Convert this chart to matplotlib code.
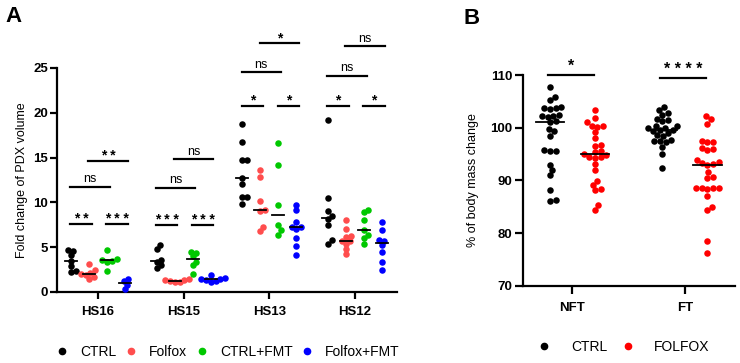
import numpy as np
import matplotlib
matplotlib.use('Agg')
import matplotlib.pyplot as plt
from matplotlib.lines import Line2D

plt.rcParams['font.family'] = ['Liberation Sans', 'DejaVu Sans']

# ---- panel A data: fold change of PDX volume ----
groups = ['HS16', 'HS15', 'HS13', 'HS12']
series_a = ['CTRL', 'Folfox', 'CTRL+FMT', 'Folfox+FMT']
colors_a = ['#000000', '#FF4D4D', '#00C800', '#0000FF']

ctrl = [
    [4.7, 4.6, 4.1, 3.5, 2.9, 2.3, 2.2],
    [5.2, 4.8, 3.6, 3.4, 3.0, 2.7],
    [18.7, 16.7, 14.7, 14.7, 12.7, 12.0, 10.6, 10.6, 9.8],
    [19.2, 10.5, 9.0, 8.5, 8.1, 7.5, 5.8, 5.4],
]
folfox = [
    [3.1, 2.4, 2.1, 2.0, 1.9, 1.7, 1.5],
    [1.4, 1.3, 1.3, 1.2, 1.1, 1.1],
    [13.6, 12.8, 10.2, 9.2, 9.0, 7.3, 6.8],
    [8.0, 7.0, 6.3, 6.1, 5.7, 5.7, 5.4, 4.8, 4.2],
]
ctrl_fmt = [
    [4.7, 3.7, 3.6, 3.5, 3.4, 2.3],
    [4.5, 4.4, 4.0, 3.4, 3.0, 2.0],
    [16.6, 14.2, 9.7, 7.5, 6.9, 6.4],
    [9.2, 8.9, 8.0, 6.9, 6.4, 6.0, 5.4],
]
folfox_fmt = [
    [1.5, 1.2, 0.8, 0.3],
    [1.9, 1.6, 1.5, 1.4, 1.3, 1.2, 1.1],
    [9.7, 9.1, 7.8, 7.3, 7.2, 7.0, 6.0, 5.1, 4.1],
    [7.8, 6.9, 5.8, 5.7, 5.2, 4.5, 3.4, 2.5],
]
data_a = [ctrl, folfox, ctrl_fmt, folfox_fmt]

# (group, series a, series b, bar height, label)
sig_a = [
    (0, 0, 1, 7.6, '**'), (0, 2, 3, 7.6, '***'), (0, 0, 2, 11.7, 'ns'), (0, 1, 3, 14.65, '**'),
    (1, 0, 1, 7.5, '***'), (1, 2, 3, 7.5, '***'), (1, 0, 2, 11.6, 'ns'), (1, 1, 3, 14.8, 'ns'),
    (2, 0, 1, 20.8, '*'), (2, 2, 3, 20.8, '*'), (2, 0, 2, 24.5, 'ns'), (2, 1, 3, 27.75, '*'),
    (3, 0, 1, 20.8, '*'), (3, 2, 3, 20.8, '*'), (3, 0, 2, 24.1, 'ns'), (3, 1, 3, 27.4, 'ns'),
]

# ---- panel B data: % of body mass change ----
conds = ['NFT', 'FT']
series_b = ['CTRL', 'FOLFOX']
colors_b = ['#000000', '#FF0000']
ctrl_nft = [107.7, 105.8, 105.3, 104.0, 103.8, 103.8, 103.6, 102.3, 102.3, 102.0, 102.5, 101.2, 101.0,
            99.7, 99.3, 98.5, 95.8, 95.5, 95.5, 93.0, 92.0, 91.0, 88.1, 86.2, 86.0]
folfox_nft = [103.4, 101.8, 101.0, 100.4, 100.4, 100.2, 99.2, 98.0, 96.7, 96.5, 95.5, 95.3, 95.0,
              94.8, 94.4, 94.4, 94.2, 93.1, 92.0, 89.8, 89.1, 88.4, 88.1, 85.3, 84.4]
ctrl_ft = [103.9, 103.4, 102.8, 102.5, 101.5, 101.2, 101.6, 100.3, 100.0, 100.3, 100.0, 99.5,
           99.4, 99.6, 99.0, 98.6, 98.5, 97.5, 97.5, 97.3, 97.6, 96.4, 95.0, 92.3]
folfox_ft = [102.2, 101.6, 100.7, 97.4, 97.2, 97.3, 96.1, 96.0, 95.8, 93.8, 93.5, 93.3, 93.1, 93.0,
             91.5, 90.7, 90.4, 88.6, 88.5, 88.5, 88.4, 88.5, 87.1, 85.0, 84.4, 78.5, 76.3]
data_b = [[ctrl_nft, ctrl_ft], [folfox_nft, folfox_ft]]
sig_b = [(0, 110.0, '*'), (1, 109.4, '****')]


def swarm(ax, x0, values, diam_px):
    # simple beeswarm in display coords
    pts = ax.transData.transform(np.column_stack([np.full(len(values), x0), values]))
    order = np.argsort(pts[:, 1])
    placed = []
    xs = np.zeros(len(values))
    for i in order:
        y = pts[i, 1]
        cands = [0.0]
        for (px, py) in placed:
            dy = abs(py - y)
            if dy < diam_px:
                dx = np.sqrt(diam_px ** 2 - dy ** 2)
                cands += [px + dx, px - dx]
        cands.sort(key=abs)
        for c in cands:
            if all((c - px) ** 2 + (y - py) ** 2 >= diam_px ** 2 - 1e-6 for px, py in placed):
                break
        placed.append((c, y))
        xs[i] = c
    disp = np.column_stack([pts[:, 0] + xs, pts[:, 1]])
    return ax.transData.inverted().transform(disp)[:, 0]


def style_axis(ax, tl):
    for s in ['top', 'right']:
        ax.spines[s].set_visible(False)
    for s in ['left', 'bottom']:
        ax.spines[s].set_linewidth(1.6)
    ax.tick_params(width=1.6, length=tl, labelsize=9.5, pad=1.5)
    for lab in ax.get_xticklabels() + ax.get_yticklabels():
        lab.set_fontweight('bold')


def stars(lab):
    return lab if lab == 'ns' else ' '.join(lab)


fig = plt.figure(figsize=(7.4, 3.63), dpi=100)

# ---------------- panel A ----------------
axA = fig.add_axes([57 / 740, 71 / 363, 340 / 740, 224 / 363])
axA.set_xlim(-0.48, 3.49)
axA.set_ylim(0, 25)
axA.set_yticks([0, 5, 10, 15, 20, 25])
axA.set_xticks(range(len(groups)))
axA.set_xticklabels(groups)
axA.set_ylabel('Fold change of PDX volume', fontsize=9, labelpad=4)
style_axis(axA, 5)
axA.tick_params(axis='x', pad=5)

offs_a = [-0.315, -0.105, 0.105, 0.315]
for s, series in enumerate(data_a):
    for g, vals in enumerate(series):
        xc = g + offs_a[s]
        xs = swarm(axA, xc, vals, 5.0)
        axA.scatter(xs, vals, s=22, color=colors_a[s], linewidths=0, zorder=3, clip_on=False)
        axA.plot([xc - 0.07, xc + 0.07], [np.median(vals)] * 2, color='black', lw=1.3, zorder=4)

for g, a, b, y, lab in sig_a:
    x1, x2 = g + offs_a[a] - 0.01, g + offs_a[b] + 0.03
    axA.plot([x1, x2], [y, y], color='black', lw=1.6, clip_on=False)
    if lab == 'ns':
        axA.annotate(lab, ((x1 + x2) / 2, y), xytext=(0, 3.5), textcoords='offset points',
                     ha='center', va='baseline', fontsize=9, annotation_clip=False)
    else:
        axA.annotate(stars(lab), ((x1 + x2) / 2, y), xytext=(0, 0.8), textcoords='offset points',
                     ha='center', va='baseline', fontsize=10, fontweight='bold', annotation_clip=False)

handles_a = [Line2D([], [], marker='o', ls='', color=c, markersize=4.5) for c in colors_a]
fig.legend(handles_a, series_a, loc='center', bbox_to_anchor=(229 / 740, 1 - 352 / 363), ncol=4,
           frameon=False, fontsize=10, handlelength=0.6, handletextpad=1.0, columnspacing=0.75)

# ---------------- panel B ----------------
axB = fig.add_axes([523 / 740, 77.3 / 363, 212 / 740, 210.7 / 363])
axB.set_xlim(-0.44, 1.445)
axB.set_ylim(70, 110)
axB.set_yticks([70, 80, 90, 100, 110])
axB.set_xticks(range(len(conds)))
axB.set_xticklabels(conds)
axB.set_ylabel('% of body mass change', fontsize=9, labelpad=8)
style_axis(axB, 6)
axB.tick_params(axis='x', pad=6)

offs_b = [-0.2, 0.2]
for s, series in enumerate(data_b):
    for g, vals in enumerate(series):
        xc = g + offs_b[s]
        xs = swarm(axB, xc, vals, 5.8)
        axB.scatter(xs, vals, s=22, color=colors_b[s], linewidths=0, zorder=3, clip_on=False)
        axB.plot([xc - 0.125, xc + 0.125], [np.median(vals)] * 2, color='black', lw=1.3, zorder=4)

for g, y, lab in sig_b:
    x1, x2 = g - 0.22, g + 0.19
    axB.plot([x1, x2], [y, y], color='black', lw=1.6, clip_on=False)
    axB.annotate(stars(lab), ((x1 + x2) / 2, y), xytext=(0, 3), textcoords='offset points',
                 ha='center', va='baseline', fontsize=11.5, fontweight='bold', annotation_clip=False)

handles_b = [Line2D([], [], marker='o', ls='', color=c, markersize=4.5) for c in colors_b]
fig.legend(handles_b, series_b, loc='center', bbox_to_anchor=(625 / 740, 1 - 347 / 363), ncol=2,
           frameon=False, fontsize=10, handlelength=0.6, handletextpad=1.6, columnspacing=1.2)

# panel letters
fig.text(5 / 740, 1 - 22 / 363, 'A', fontsize=16, fontweight='bold')
fig.text(463 / 740, 1 - 24 / 363, 'B', fontsize=16, fontweight='bold')

fig.savefig('out.png', dpi=100)
